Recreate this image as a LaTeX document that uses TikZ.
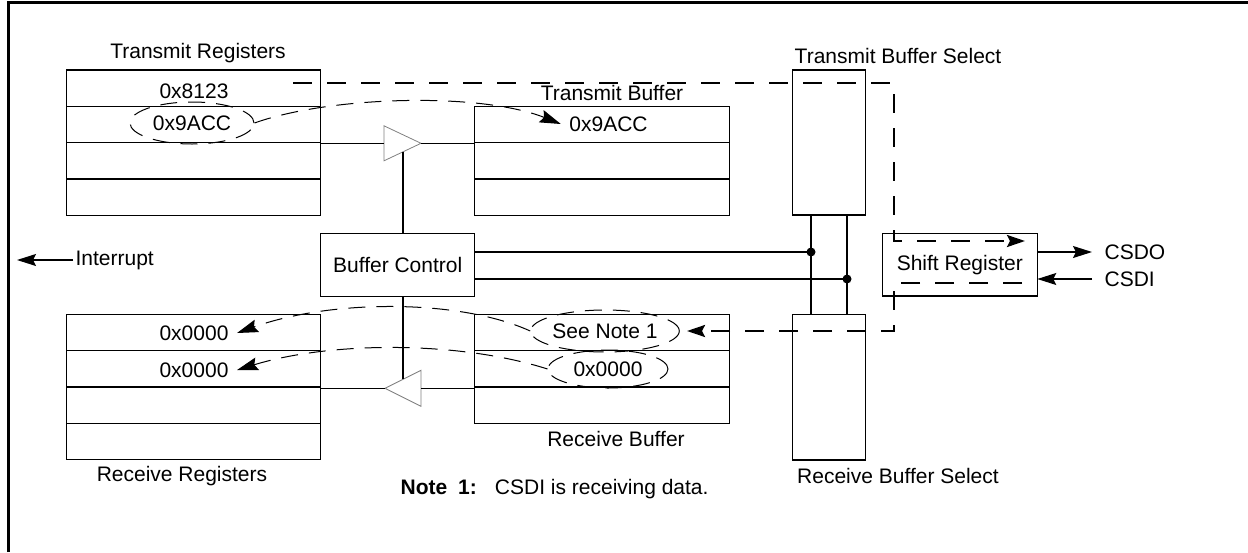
\documentclass[tikz,border=0pt]{standalone}
\usepackage{fontspec}
\setmainfont{Liberation Sans}
\usetikzlibrary{arrows.meta}
\usetikzlibrary{shapes.geometric}
\usetikzlibrary{calc}
\tikzset{
    frame/.style={draw=black, line width=3pt},
    regbox/.style={draw=black, rectangle, inner sep=0pt, outer sep=0pt, anchor=north west},
    oval/.style={draw=black, ellipse, inner sep=0pt, line width=1pt, dash pattern=on 17pt off 11pt},
    lbl/.style={inner sep=2pt},
    val/.style={inner sep=8pt},
    amp/.style={draw=gray, line width=0.8pt},
    bus/.style={draw=black, line width=2.4pt, dash pattern=on 19pt off 15pt,
        -{Stealth[length=18pt,width=12pt,inset=3pt]}},
    flow/.style={draw=black, line width=1pt, dash pattern=on 17pt off 11pt,
        -{Stealth[length=21pt,width=13pt,inset=3pt]}},
    sig/.style={draw=black, -{Stealth[length=19pt,width=12pt,inset=3pt]}},
}

\begin{document}
\begin{tikzpicture}[x=1pt, y=-1pt, line width=1.2pt, font=\fontsize{21}{25}\selectfont]
	\useasboundingbox (0,0) rectangle (1248,552);
	\draw[frame] (8,552) -- (8,2) -- (1248,2);
	% register files and buffers
	\node[regbox, minimum width=254pt, minimum height=145.2pt] (txreg) at (66.7,70) {};
	\node[regbox, minimum width=255pt, minimum height=108.9pt] (txbuf) at (474.3,106.3) {};
	\node[regbox, minimum width=254pt, minimum height=145.2pt] (rxreg) at (66.7,314.3) {};
	\node[regbox, minimum width=255pt, minimum height=108.9pt] (rxbuf) at (474.3,314.3) {};
	\foreach \i in {1,2,3} \draw ($(txreg.north west)+(0,36.3*\i)$) -- ++(254,0);
	\foreach \i in {1,2,3} \draw ($(rxreg.north west)+(0,36.3*\i)$) -- ++(254,0);
	\foreach \i in {1,2} \draw ($(txbuf.north west)+(0,36.3*\i)$) -- ++(255,0);
	\foreach \i in {1,2} \draw ($(rxbuf.north west)+(0,36.3*\i)$) -- ++(255,0);
	\node[regbox, minimum width=73pt, minimum height=145pt] (txsel) at (792.3,70) {};
	\node[regbox, minimum width=73pt, minimum height=145.7pt] (rxsel) at (792.3,314.3) {};
	\node[regbox, minimum width=154pt, minimum height=63pt] (bufctl) at (320.7,233.3) {Buffer Control};
	\node[regbox, minimum width=155pt, minimum height=62.7pt] (shreg) at (882.3,233.3) {Shift Register};
	% labels
	\node[lbl] (txreglbl) at (198,53) {Transmit Registers};
	\node[lbl] (txbuflbl) at (612,93) {Transmit Buffer};
	\node[lbl] (txsellbl) at (898,56) {Transmit Buffer Select};
	\node[lbl] (rxreglbl) at (182,476) {Receive Registers};
	\node[lbl] (rxbuflbl) at (616,439) {Receive Buffer};
	\node[lbl] (rxsellbl) at (898,476) {Receive Buffer Select};
	\node[lbl, anchor=west] (note) at (398,489) {\textbf{Note}\hspace{11pt}\textbf{1:}\hspace{18pt}CSDI is receiving data.};
	% drivers
	\coordinate (txamp) at (384,143.3);
	\coordinate (txtip) at (421,143.3);
	\coordinate (txctl) at (403,152.3);
	\draw[amp] (txamp) ++(0,-17.5) -- ++(37,17.5) -- ++(-37,17.5) -- cycle;
	\draw (txreg.east |- txamp) -- (txamp);
	\draw (txtip) -- (txbuf.west |- txtip);
	\draw (txctl) -- (bufctl.north -| txctl);
	\coordinate (rxtip) at (385,388.3);
	\coordinate (rxamp) at (421,388.3);
	\coordinate (rxctl) at (403,379.3);
	\draw[amp] (rxamp) ++(0,-18) -- ++(-36,18) -- ++(36,18) -- cycle;
	\draw (rxbuf.west |- rxamp) -- (rxamp);
	\draw (rxtip) -- (rxreg.east |- rxtip);
	\draw (bufctl.south -| rxctl) -- (rxctl);
	% select lines
	\coordinate (j1) at (811,252);
	\coordinate (j2) at (847,279);
	\draw (bufctl.east |- j1) -- (j1);
	\draw (bufctl.east |- j2) -- (j2);
	\draw (txsel.south -| j1) -- (rxsel.north -| j1);
	\draw (txsel.south -| j2) -- (rxsel.north -| j2);
	\fill (j1) circle (4.5pt);
	\fill (j2) circle (4.5pt);
	% pins
	\node[lbl, anchor=west] (irqlbl) at (73,260) {Interrupt};
	\coordinate (irq) at (17,260);
	\draw[sig] (irqlbl.west) -- (irq);
	\node[lbl, anchor=west] (csdo) at (1102,252) {CSDO};
	\node[lbl, anchor=west] (csdi) at (1102,279) {CSDI};
	\draw[sig] (shreg.east |- csdo) -- ([xshift=-10pt]csdo.west);
	\draw[sig] ([xshift=-10pt]csdi.west) -- (shreg.east |- csdi);
	% data words
	\node[val] (txr1) at (194,91) {0x8123};
	\node[oval, minimum width=124pt, minimum height=42pt] (txr2) at (192,123) {0x9ACC};
	\node[val] (txb1) at (608.5,124) {0x9ACC};
	\node[val] (rxr1) at (194,333) {0x0000};
	\node[val] (rxr2) at (194,370) {0x0000};
	\node[oval, minimum width=122pt, minimum height=42pt] (rxb1) at (605,331) {See Note 1};
	\node[oval, minimum width=120pt, minimum height=38pt] (rxb2) at (608,369) {0x0000};
	\draw[flow] (txr2.east) .. controls (330,96) and (480,92) .. (txb1.west);
	\draw[flow] (rxb1.west) .. controls (460,299) and (332,299) .. (rxr1.east);
	\draw[flow] (rxb2.west) .. controls (460,341) and (332,341) .. (rxr2.east);
	% shift paths
	\coordinate (txout) at (293,83);
	\coordinate (shin) at (1025,241);
	\coordinate (shout) at (1022,283);
	\coordinate (rxin) at (687,331);
	\draw[bus] (txout) -| ++(601,158) -- (shin);
	\draw[bus] (shout) -| ++(-128,48) -- (rxin);
\end{tikzpicture}
\end{document}
